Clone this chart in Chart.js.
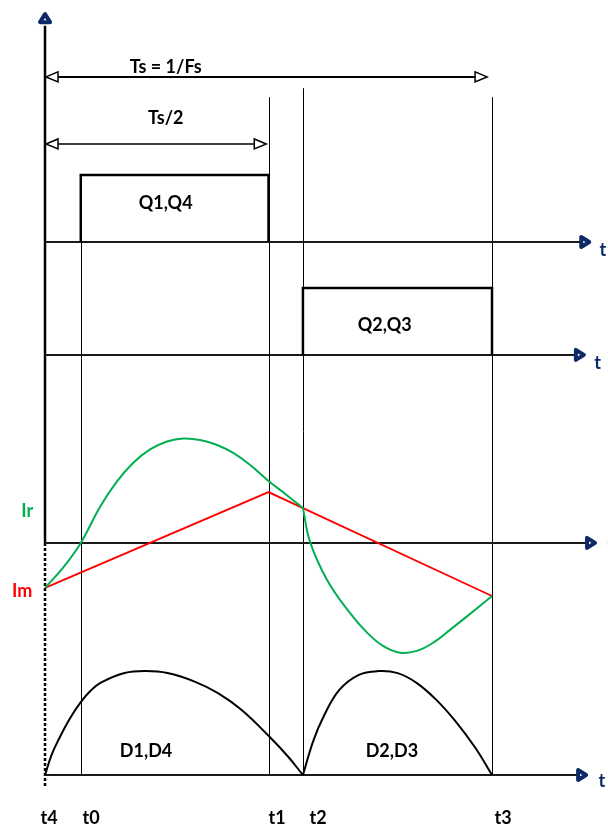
<!DOCTYPE html>
<html>
<head>
<meta charset="utf-8">
<script src="https://cdn.jsdelivr.net/npm/chart.js@4.4.1/dist/chart.umd.min.js"></script>
<style>
  html, body { margin: 0; padding: 0; background: #fff; }
  #wrap { width: 608px; height: 829px; }
</style>
</head>
<body>
<div id="wrap"><canvas id="timing" width="608" height="829"></canvas></div>
<script>
// Time is measured in switching periods (Ts = 1)
const T4 = 0, T0 = 0.08, T1 = 0.5, T2 = 0.577, T3 = 1.0;
const markTimes = [T4, T0, T1, T2, T3];
const markNames = ['t4', 't0', 't1', 't2', 't3'];

// Gate drive, 0 = off, 1 = on
const q14Times = [T0, T0, T1, T1];
const q14Levels = [0, 1, 1, 0];
const q23Times = [T2, T2, T3, T3];
const q23Levels = [0, 1, 1, 0];

// Magnetizing current Im (triangle)
const imTimes = [T4, T1, T3];
const imValues = [-1.0, 1.13, -1.18];

// Resonant current Ir, up to t2 and after t2
const irRiseTimes = [T4, 0.04, T0, 0.123, 0.161, 0.197, 0.235, 0.273, 0.309, 0.347, 0.385, 0.421, 0.459, T1, 0.539, T2];
const irRiseValues = [-1.0, -0.556, 0, 0.80, 1.367, 1.778, 2.078, 2.256, 2.322, 2.289, 2.178, 2.0, 1.733, 1.378, 1.078, 0.778];
const irFallTimes = [T2, 0.593, 0.631, 0.682, 0.72, 0.756, 0.794, 0.832, 0.868, 0.906, 0.944, T3];
const irFallValues = [0.778, 0.022, -0.822, -1.556, -1.989, -2.289, -2.44, -2.4, -2.222, -1.933, -1.633, -1.178];

// Rectifier diode currents (normalised to peak)
const d14Times = [T4, 0.0145, 0.03, 0.055, T0, 0.103, 0.125, 0.178, 0.226, 0.274, 0.336, 0.387, 0.44, 0.505, 0.544, T2];
const d14Values = [0, 0.192, 0.337, 0.539, 0.702, 0.816, 0.889, 0.981, 1.0, 0.981, 0.897, 0.788, 0.625, 0.356, 0.176, 0];
const d23Times = [T2, 0.6, 0.623, 0.658, 0.701, 0.745, 0.789, 0.832, 0.876, 0.919, 0.963, T3];
const d23Values = [0, 0.327, 0.561, 0.817, 0.962, 1.0, 0.981, 0.885, 0.721, 0.514, 0.26, 0];

// Panel layout on the shared vertical scale
const LEVEL = { q14: 6.69, q23: 4.18, current: 0, diode: -5.16 };
const GATE_H = 1.49;
const DIODE_H = 2.31;
const X_MIN = -0.1007, X_MAX = 1.2595;
const Y_MIN = -6.36, Y_MAX = 12.07;

const NAVY = '#0d2a66';
const GREEN = '#00b050';
const RED = '#ff0000';
const FONT = 'bold 18px Lato, "Open Sans", sans-serif';

function toPoints(times, values, base, scale) {
    return times.map((t, i) => ({ x: t, y: base + values[i] * scale }));
}

const smooth = { showLine: true, tension: 0.4 };

const datasets = [
    {
        label: 'Q1,Q4',
        data: toPoints(q14Times, q14Levels, LEVEL.q14, GATE_H),
        borderColor: '#000', borderWidth: 2.5, showLine: true
    },
    {
        label: 'Q2,Q3',
        data: toPoints(q23Times, q23Levels, LEVEL.q23, GATE_H),
        borderColor: '#000', borderWidth: 2.5, showLine: true
    },
    {
        label: 'Ir',
        data: toPoints(irRiseTimes, irRiseValues, LEVEL.current, 1),
        borderColor: GREEN, borderWidth: 2, ...smooth
    },
    {
        label: 'Ir after t2',
        data: toPoints(irFallTimes, irFallValues, LEVEL.current, 1),
        borderColor: GREEN, borderWidth: 2, ...smooth
    },
    {
        label: 'Im',
        data: toPoints(imTimes, imValues, LEVEL.current, 1),
        borderColor: RED, borderWidth: 1.8, showLine: true
    },
    {
        label: 'D1,D4',
        data: toPoints(d14Times, d14Values, LEVEL.diode, DIODE_H),
        borderColor: '#000', borderWidth: 2, ...smooth
    },
    {
        label: 'D2,D3',
        data: toPoints(d23Times, d23Values, LEVEL.diode, DIODE_H),
        borderColor: '#000', borderWidth: 2, ...smooth
    }
];

// filled navy arrowhead with a small white hole
function navyHead(ctx, x, y, dir) {
    ctx.save();
    ctx.translate(x, y);
    if (dir === 'up') ctx.rotate(-Math.PI / 2);
    ctx.beginPath();
    ctx.moveTo(-2, 0);
    ctx.lineTo(-10, -5);
    ctx.lineTo(-10, 5);
    ctx.closePath();
    ctx.fillStyle = '#fff';
    ctx.fill();
    ctx.lineJoin = 'round';
    ctx.lineWidth = 4;
    ctx.strokeStyle = NAVY;
    ctx.stroke();
    ctx.restore();
}

// open black arrowhead for the period markers
function openHead(ctx, x, y, dir) {
    const s = dir === 'left' ? 1 : -1;
    ctx.beginPath();
    ctx.moveTo(x, y);
    ctx.lineTo(x + s * 12, y - 5);
    ctx.lineTo(x + s * 12, y + 5);
    ctx.closePath();
    ctx.fillStyle = '#fff';
    ctx.fill();
    ctx.lineWidth = 1.5;
    ctx.strokeStyle = '#000';
    ctx.stroke();
}

const axisEnds = [[LEVEL.q14, 1.222], [LEVEL.q23, 1.21], [LEVEL.current, 1.235], [LEVEL.diode, 1.215]];

// axes, guide lines, period markers and labels
const timingDecor = {
    id: 'timingDecor',
    beforeDatasetsDraw(chart) {
        const { ctx, scales: { x, y } } = chart;
        const px = v => x.getPixelForValue(v);
        const py = v => y.getPixelForValue(v);
        ctx.save();

        // vertical guides at the switching instants
        const guideTops = [null, LEVEL.q14 + GATE_H, 9.91, 10.11, 9.91];
        ctx.strokeStyle = '#000';
        ctx.lineWidth = 1;
        markTimes.forEach((t, i) => {
            if (guideTops[i] === null) return;
            const gx = Math.round(px(t)) + 0.5;
            ctx.beginPath();
            ctx.moveTo(gx, py(guideTops[i]));
            ctx.lineTo(gx, py(LEVEL.diode));
            ctx.stroke();
        });

        // vertical axis, solid above the current axis, dashed below
        ctx.lineWidth = 2.5;
        ctx.beginPath();
        ctx.moveTo(px(0), py(11.5));
        ctx.lineTo(px(0), py(LEVEL.current));
        ctx.stroke();
        ctx.setLineDash([3, 2]);
        ctx.beginPath();
        ctx.moveTo(px(0), py(LEVEL.current));
        ctx.lineTo(px(0), py(-5.42));
        ctx.stroke();
        ctx.setLineDash([]);

        // horizontal time axes
        ctx.lineWidth = 2;
        ctx.strokeStyle = '#1a1a1a';
        axisEnds.forEach(([lv, end]) => {
            ctx.beginPath();
            ctx.moveTo(px(0), py(lv));
            ctx.lineTo(px(end) - 8, py(lv));
            ctx.stroke();
        });

        // Ts and Ts/2 dimension arrows
        const spans = [[10.36, 0.989], [8.87, 0.495]];
        ctx.lineWidth = 2;
        ctx.strokeStyle = '#000';
        spans.forEach(([lv, end]) => {
            const yy = py(lv);
            ctx.beginPath();
            ctx.moveTo(px(0) + 2, yy);
            ctx.lineTo(px(end) - 2, yy);
            ctx.stroke();
            openHead(ctx, px(0) + 1, yy, 'left');
            openHead(ctx, px(end), yy, 'right');
        });
        ctx.restore();
    },
    afterDatasetsDraw(chart) {
        const { ctx, scales: { x, y } } = chart;
        const px = v => x.getPixelForValue(v);
        const py = v => y.getPixelForValue(v);
        ctx.save();

        // axis arrowheads
        navyHead(ctx, px(0), py(11.8), 'up');
        axisEnds.forEach(([lv, end]) => navyHead(ctx, px(end), py(lv), 'right'));

        ctx.font = FONT;
        ctx.textAlign = 'center';
        ctx.textBaseline = 'middle';

        // "t" axis names
        ctx.fillStyle = NAVY;
        [[1.248, 6.51], [1.236, 4.0], [1.266, -0.05], [1.246, -5.3]].forEach(([t, v]) => {
            ctx.fillText('t', px(t), py(v));
        });

        // dimension and signal names
        ctx.fillStyle = '#000';
        ctx.fillText('Ts = 1/Fs', px(0.27), py(10.58));
        ctx.fillText('Ts/2', px(0.27), py(9.44));
        ctx.fillText('Q1,Q4', px(0.27), py(7.56));
        ctx.fillText('Q2,Q3', px(0.76), py(4.84));
        ctx.fillText('D1,D4', px(0.226), py(-4.64));
        ctx.fillText('D2,D3', px(0.776), py(-4.64));

        ctx.fillStyle = GREEN;
        ctx.fillText('Ir', px(-0.04), py(0.71));
        ctx.fillStyle = RED;
        ctx.fillText('Im', px(-0.051), py(-1.07));

        // instants along the bottom
        ctx.fillStyle = '#000';
        const nameOffsets = [0.009, 0.023, 0.019, 0.034, 0.025];
        markTimes.forEach((t, i) => {
            ctx.fillText(markNames[i], px(t + nameOffsets[i]), py(-6.13));
        });
        ctx.restore();
    }
};

new Chart(document.getElementById('timing').getContext('2d'), {
    type: 'scatter',
    data: { datasets },
    options: {
        responsive: false,
        animation: false,
        layout: { padding: 0 },
        elements: { point: { radius: 0, hoverRadius: 0 } },
        plugins: {
            legend: { display: false },
            tooltip: { enabled: false }
        },
        scales: {
            x: { type: 'linear', min: X_MIN, max: X_MAX, display: false },
            y: { type: 'linear', min: Y_MIN, max: Y_MAX, display: false }
        }
    },
    plugins: [timingDecor]
});
</script>
</body>
</html>
